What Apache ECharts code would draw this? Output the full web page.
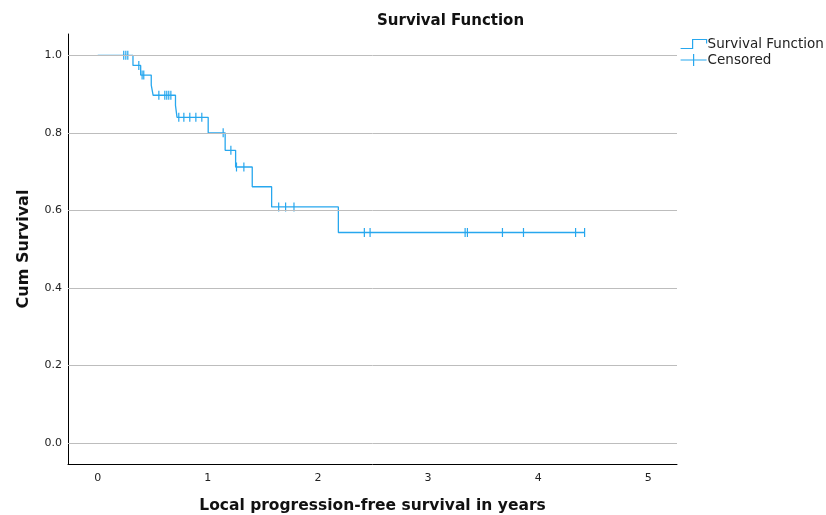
<!DOCTYPE html>
<html>
<head>
<meta charset="utf-8">
<script src="https://cdn.jsdelivr.net/npm/echarts@6/dist/echarts.min.js"></script>
<style>
  html, body { margin: 0; padding: 0; background: #fff; }
  #chart { width: 826px; height: 515px; }
</style>
</head>
<body>
<div id="chart"></div>
<script>
// step points of the survival curve (time in years, cum survival after the event)
let eventTimes = [0, 0.32, 0.39, 0.486, 0.503, 0.706, 0.72, 1.003, 1.157, 1.252, 1.403, 1.579, 2.185, 4.421];
let survival = [1, 0.974, 0.949, 0.923, 0.897, 0.871, 0.840, 0.800, 0.755, 0.712, 0.661, 0.609, 0.543, 0.543];

// censored cases
let censorTimes = [0.236, 0.255, 0.273, 0.373, 0.403, 0.418, 0.555, 0.609, 0.627, 0.645, 0.664,
    0.736, 0.782, 0.836, 0.891, 0.945, 1.139, 1.209, 1.26, 1.327, 1.643, 1.706, 1.782,
    2.421, 2.473, 3.336, 3.357, 3.675, 3.866, 4.339, 4.421];
let censorSurv = [1, 1, 1, 0.974, 0.949, 0.949, 0.897, 0.897, 0.897, 0.897, 0.897,
    0.840, 0.840, 0.840, 0.840, 0.840, 0.800, 0.755, 0.712, 0.712, 0.609, 0.609, 0.609,
    0.543, 0.543, 0.543, 0.543, 0.543, 0.543, 0.543, 0.543];

let yTicks = [0, 0.2, 0.4, 0.6, 0.8, 1.0];

const blue = '#27a7ee';
const font = 'DejaVu Sans';

let curveData = [];
eventTimes.forEach(function (t, i) {
    curveData.push([t, survival[i]]);
});
let censorData = [];
censorTimes.forEach(function (t, i) {
    censorData.push([t, censorSurv[i]]);
});

let iconStyle = { color: 'transparent', borderColor: blue, borderWidth: 1.2 };

let chart = echarts.init(document.getElementById('chart'));
chart.setOption({
    animation: false,
    title: {
        text: 'Survival Function',
        left: 372,
        top: 9,
        textStyle: { fontFamily: font, fontSize: 15, fontWeight: 'bold', color: '#111' }
    },
    legend: {
        orient: 'vertical',
        left: 675,
        top: 32,
        itemWidth: 26,
        itemHeight: 12,
        itemGap: 2,
        itemStyle: iconStyle,
        lineStyle: { color: blue },
        textStyle: { fontFamily: font, fontSize: 13.5, color: '#222', padding: [0, 0, 0, -4] },
        data: [
            { name: 'Survival Function', icon: 'path://M0,10 L12,10 L12,1 L26,1 L26,5', itemStyle: iconStyle },
            { name: 'Censored', icon: 'path://M0,6 L26,6 M13,0 L13,12', itemStyle: iconStyle }
        ]
    },
    grid: { left: 68, right: 149, top: 34, bottom: 51, outerBoundsMode: 'none', containLabel: false },
    xAxis: {
        type: 'value',
        min: -0.27,
        max: 5.26,
        splitNumber: 5,
        name: 'Local progression-free survival in years',
        nameLocation: 'middle',
        nameGap: 34,
        nameTextStyle: { fontFamily: font, fontSize: 15.5, fontWeight: 'bold', color: '#111' },
        axisLine: { onZero: false, lineStyle: { color: '#000', width: 1 } },
        axisTick: { show: false },
        splitLine: { show: false },
        axisLabel: {
            fontFamily: font, fontSize: 11, color: '#222', margin: 9,
            showMinLabel: false, showMaxLabel: false,
            formatter: function (v) {
                return Math.abs(v - Math.round(v)) < 1e-6 ? String(Math.round(v)) : '';
            }
        }
    },
    yAxis: {
        type: 'value',
        min: -0.054,
        max: 1.055,
        splitNumber: 5,
        name: 'Cum Survival',
        nameLocation: 'middle',
        nameGap: 36,
        nameTextStyle: { fontFamily: font, fontSize: 16, fontWeight: 'bold', color: '#111' },
        axisLine: { show: true, onZero: false, lineStyle: { color: '#000', width: 1 } },
        axisTick: { show: false },
        splitLine: { show: false },
        axisLabel: {
            fontFamily: font, fontSize: 11, color: '#222', margin: 6,
            showMinLabel: false, showMaxLabel: false,
            formatter: function (v) {
                return yTicks.some(function (t) { return Math.abs(t - v) < 1e-6; }) ? v.toFixed(1) : '';
            }
        }
    },
    series: [
        {
            name: 'grid',
            type: 'line',
            data: [],
            z: 1,
            silent: true,
            markLine: {
                silent: true,
                symbol: 'none',
                label: { show: false },
                lineStyle: { color: '#bdbdbd', type: 'solid', width: 1 },
                data: yTicks.map(function (v) { return { yAxis: v }; })
            }
        },
        {
            name: 'Survival Function',
            type: 'line',
            step: 'end',
            data: curveData,
            showSymbol: false,
            z: 3,
            lineStyle: { color: blue, width: 1.3 },
            itemStyle: { color: blue, borderColor: blue }
        },
        {
            // censored marks drawn as symbols only
            name: 'Censored',
            type: 'line',
            data: censorData,
            showSymbol: true,
            symbol: 'rect',
            symbolSize: [1.2, 9],
            z: 4,
            lineStyle: { color: blue, width: 0, opacity: 0 },
            itemStyle: { color: blue, borderColor: blue, borderWidth: 0 }
        }
    ]
});
</script>
</body>
</html>
